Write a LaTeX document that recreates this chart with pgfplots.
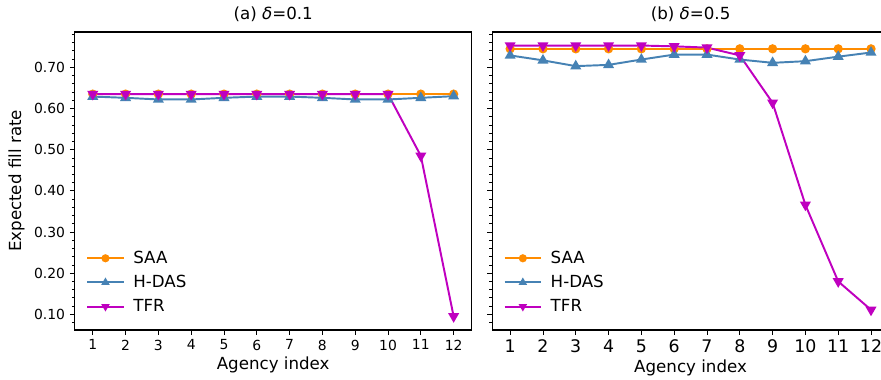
\documentclass[border=0pt]{standalone}
\usepackage{pgfplots}
\pgfplotsset{compat=1.18}
\usepackage{fontspec}
\setmainfont{DejaVu Sans}
\definecolor{saa}{HTML}{FF8C00}
\definecolor{hdas}{HTML}{4682B4}
\definecolor{tfr}{HTML}{BF00BF}
\newcommand{\lf}{\fontsize{12}{14}\selectfont}
\pgfplotsset{
  base/.style={
    scale only axis, width=285.8pt, height=214.6pt,
    xmin=0.45, xmax=12.55, ymin=0.062, ymax=0.786,
    xtick={1,...,12}, ytick={0.1,0.2,...,0.71},
    minor ytick={0.06,0.08,...,0.785},
    tick align=outside, tick pos=left,
    major tick length=3.5pt, minor tick length=2pt,
    every tick/.style={black, line width=0.6pt},
    axis line style={line width=0.8pt},
    /pgf/number format/assume math mode=true,
    yticklabel style={/pgf/number format/.cd, fixed, fixed zerofill, precision=2},
    xlabel={Agency index}, xlabel style={font=\lf, yshift=2pt},
    title style={font=\lf, yshift=-2pt},
    legend style={draw=none, fill=none, at={(0.025,0.04)}, anchor=south west,
      font=\lf, row sep=3pt, column sep=4.3pt, inner sep=1pt},
    legend cell align=left,
    legend image code/.code={
      \draw[line width=1.4pt, mark repeat=2,mark phase=2, mark size=2.2pt] plot coordinates {(0cm,0cm) (0.46cm,0cm) (0.92cm,0cm)};},
    every axis plot/.append style={line width=1.4pt},
  },
  saastyle/.style={color=saa, mark=*, mark size=2.6pt, mark options={solid}},
  hdasstyle/.style={color=hdas, mark=triangle*, mark size=3.2pt},
  tfrstyle/.style={color=tfr, mark=triangle*, mark size=3.2pt, mark options={rotate=180}},
}
\begin{document}
\begin{tikzpicture}
\path[use as bounding box] (-53.8pt,-35.3pt) rectangle (580.5pt,237.6pt);
\begin{axis}[base, at={(0pt,0pt)}, anchor=south west,
  title={(a) {\itshape δ}=0.1},
  ylabel={Expected fill rate}, ylabel style={font=\lf},
  ticklabel style={font=\fontsize{10}{12}\selectfont}]
\addplot[saastyle] coordinates {(1,0.635)(2,0.635)(3,0.635)(4,0.635)(5,0.635)(6,0.635)(7,0.635)(8,0.635)(9,0.635)(10,0.635)(11,0.635)(12,0.635)};
\addlegendentry{SAA}
\addplot[hdasstyle] coordinates {(1,0.629)(2,0.626)(3,0.622)(4,0.622)(5,0.626)(6,0.629)(7,0.629)(8,0.626)(9,0.622)(10,0.622)(11,0.626)(12,0.630)};
\addlegendentry{H-DAS}
\addplot[tfrstyle] coordinates {(1,0.635)(2,0.635)(3,0.635)(4,0.635)(5,0.635)(6,0.635)(7,0.635)(8,0.635)(9,0.635)(10,0.635)(11,0.485)(12,0.095)};
\addlegendentry{TFR}
\end{axis}
\begin{axis}[base, at={(300.5pt,0pt)}, anchor=south west,
  title={(b) {\itshape δ}=0.5},
  yticklabels={},
  xticklabel style={font=\fontsize{12.5}{14}\selectfont}]
\addplot[saastyle] coordinates {(1,0.745)(2,0.745)(3,0.745)(4,0.745)(5,0.745)(6,0.745)(7,0.745)(8,0.745)(9,0.745)(10,0.745)(11,0.745)(12,0.745)};
\addlegendentry{SAA}
\addplot[hdasstyle] coordinates {(1,0.729)(2,0.717)(3,0.703)(4,0.706)(5,0.719)(6,0.731)(7,0.731)(8,0.719)(9,0.711)(10,0.715)(11,0.726)(12,0.736)};
\addlegendentry{H-DAS}
\addplot[tfrstyle] coordinates {(1,0.753)(2,0.753)(3,0.753)(4,0.753)(5,0.753)(6,0.751)(7,0.748)(8,0.729)(9,0.614)(10,0.366)(11,0.180)(12,0.111)};
\addlegendentry{TFR}
\end{axis}
\end{tikzpicture}
\end{document}
